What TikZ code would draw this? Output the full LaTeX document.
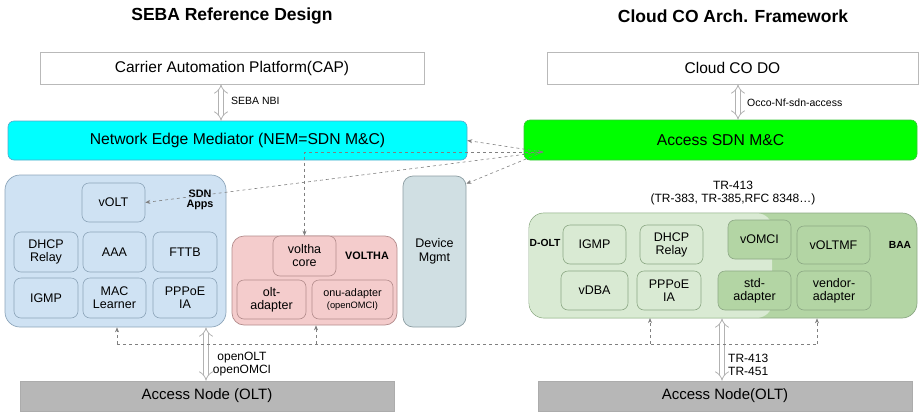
\documentclass[tikz,border=0pt]{standalone}
\usepackage{fontspec}
\setmainfont{Liberation Sans}
\usetikzlibrary{arrows.meta, calc}
\definecolor{sbluefill}{HTML}{CFE2F3}
\definecolor{sblueline}{HTML}{8DA5BA}
\definecolor{vpinkfill}{HTML}{F4CCCC}
\definecolor{vpinkline}{HTML}{B38C8C}
\definecolor{devfill}{HTML}{D0DFE3}
\definecolor{devline}{HTML}{8C9DA2}
\definecolor{doltfill}{HTML}{D9EAD3}
\definecolor{baafill}{HTML}{B3D5A4}
\definecolor{greenline}{HTML}{8CA884}
\definecolor{nodegray}{HTML}{B7B7B7}
\definecolor{dashgray}{HTML}{808080}
\definecolor{nemcyan}{HTML}{00FFFF}
\definecolor{sdngreen}{HTML}{00FF00}
\tikzset{
  title/.style={font=\fontsize{17.5}{20}\selectfont\bfseries},
  topbox/.style={draw=gray!55, fill=white, line width=0.6pt,
                 font=\fontsize{15.5}{18}\selectfont},
  ctlbox/.style={rounded corners=6pt, line width=0.6pt,
                 font=\fontsize{15.7}{18}\selectfont},
  groupbox/.style={rounded corners=15pt, line width=0.7pt},
  appbox/.style={draw=sblueline, fill=sbluefill, rounded corners=7pt,
                 line width=0.6pt, align=center,
                 font=\fontsize{12.5}{14}\selectfont},
  vbox/.style={appbox, draw=vpinkline, fill=vpinkfill},
  gbox/.style={appbox, draw=greenline, fill=doltfill},
  gboxdk/.style={appbox, draw=greenline, fill=baafill},
  grplabel/.style={font=\fontsize{10.8}{12.5}\selectfont\bfseries, align=center},
  accbox/.style={draw=gray!65, fill=nodegray, line width=0.6pt,
                 font=\fontsize{15}{18}\selectfont},
  dblarrow/.style={draw=gray!60, double=white, double distance=4.2pt,
                   line width=0.8pt, {Implies[scale=1.3]}-{Implies[scale=1.3]}},
  dashline/.style={dashgray, dashed, line width=0.6pt,
                   {Stealth[length=5pt, width=4pt]}-{Stealth[length=5pt, width=4pt]}},
  dashto/.style={dashgray, dashed, line width=0.6pt,
                 -{Stealth[length=5pt, width=4pt]}},
  lbl/.style={font=\fontsize{12}{14}\selectfont, anchor=west, inner sep=0,
              align=left},
}

\begin{document}
\begin{tikzpicture}[x=1pt, y=-1pt]
  \useasboundingbox (0,0) rectangle (923,418);

  %% titles
  \node[title] (seba) at (232,16) {SEBA Reference Design};
  \node[title] (cloud) at (733,16) {Cloud CO Arch. Framework};

  %% orchestration layer
  \node[topbox, minimum width=384pt, minimum height=32pt] (cap) at (232,68)
    {Carrier Automation Platform(CAP)};
  \node[topbox, minimum width=371pt, minimum height=32pt] (ccodo) at (732.5,68)
    {Cloud CO DO};

  %% SDN controllers
  \node[ctlbox, draw=cyan!60!gray, fill=nemcyan, minimum width=459pt,
        minimum height=39pt] (nem) at (237.5,140.5)
    {Network Edge Mediator (NEM=SDN M\&C)};
  \node[ctlbox, draw=green!55!gray, fill=sdngreen, minimum width=393pt,
        minimum height=40pt] (asdn) at (720.5,140)
    {Access SDN M\&C};

  \draw[dblarrow] (cap.south -| 221,0) -- (nem.north -| 221,0);
  \node[lbl, font=\fontsize{10.5}{12}\selectfont] (nbi) at (231,101) {SEBA NBI};
  \draw[dblarrow] (ccodo.south -| 738,0) -- (asdn.north -| 738,0);
  \node[lbl, font=\fontsize{10.5}{12}\selectfont] (occo) at (747,103) {Occo-Nf-sdn-access};

  %% SEBA: SDN apps
  \node[groupbox, draw=sblueline, fill=sbluefill, minimum width=221pt,
        minimum height=152pt] (sdnapps) at (115.5,251) {};
  \node[grplabel] (sdnlbl) at (200,200) {SDN\\[-2pt]Apps};
  \node[appbox, minimum width=63pt, minimum height=39pt] (volt) at (113.5,202.5) {vOLT};
  \node[appbox, minimum width=64pt, minimum height=40pt] (dhcp) at (46,252) {DHCP\\[-1pt]Relay};
  \node[appbox, minimum width=63pt, minimum height=40pt] (aaa) at (114.5,252) {AAA};
  \node[appbox, minimum width=64pt, minimum height=40pt] (fttb) at (185,252) {FTTB};
  \node[appbox, minimum width=64pt, minimum height=40pt] (igmp) at (46,298) {IGMP};
  \node[appbox, minimum width=63pt, minimum height=40pt] (macl) at (114.5,298) {MAC\\[-1pt]Learner};
  \node[appbox, minimum width=64pt, minimum height=40pt] (pppoe) at (185,298) {PPPoE\\[-1pt]IA};

  %% SEBA: VOLTHA
  \node[groupbox, rounded corners=12pt, draw=vpinkline, fill=vpinkfill,
        minimum width=165pt, minimum height=89pt] (voltha) at (314.5,280.5) {};
  \node[vbox, minimum width=63pt, minimum height=40pt] (vcore) at (304.5,256) {voltha\\[-1pt]core};
  \node[grplabel] (vlbl) at (367,256) {VOLTHA};
  \node[vbox, minimum width=69pt, minimum height=39pt] (oltad) at (271.5,299.5) {olt-\\[-1pt]adapter};
  \node[vbox, minimum width=81pt, minimum height=39pt] (onuad) at (352.5,299.5)
    {\fontsize{10.8}{13}\selectfont onu-adapter\\[-2pt]\fontsize{9.3}{11}\selectfont(openOMCI)};

  %% SEBA: device management
  \node[groupbox, rounded corners=10pt, draw=devline, fill=devfill, align=center,
        minimum width=63pt, minimum height=151pt,
        font=\fontsize{12.5}{15}\selectfont] (devmgmt) at (434.5,251.5) {Device\\[-1pt]Mgmt};

  %% Cloud CO: D-OLT and BAA
  \node[font=\fontsize{12}{14}\selectfont, align=center] (trtop) at (733,193)
    {TR-413\\[-1pt](TR-383, TR-385,RFC 8348\ldots)};
  \node[groupbox, draw=greenline, fill=baafill, minimum width=388pt,
        minimum height=105pt] (baa) at (723,265.5) {};
  \node[groupbox, fill=doltfill, minimum width=243pt,
        minimum height=104.4pt] (dolt) at (650.7,265.5) {};
  \node[grplabel, font=\fontsize{10.3}{12}\selectfont\bfseries] (doltlbl) at (545,243) {D-OLT};
  \node[grplabel, font=\fontsize{10.3}{12}\selectfont\bfseries] (baalbl) at (900,245) {BAA};
  \node[gbox, minimum width=63pt, minimum height=39pt] (igmp2) at (594.5,244.5) {IGMP};
  \node[gbox, minimum width=63pt, minimum height=39pt] (dhcp2) at (671.5,244.5) {DHCP\\[-1pt]Relay};
  \node[gboxdk, minimum width=63pt, minimum height=39pt] (vomci) at (759.5,239.5) {vOMCI};
  \node[gboxdk, minimum width=73pt, minimum height=38pt] (voltmf) at (833.5,245) {vOLTMF};
  \node[gbox, minimum width=67pt, minimum height=39pt] (vdba) at (594.5,290.5) {vDBA};
  \node[gbox, minimum width=64pt, minimum height=39pt] (pppoe2) at (669,290.5) {PPPoE\\[-1pt]IA};
  \node[gboxdk, minimum width=73pt, minimum height=39pt] (stdad) at (754.5,290.5) {std-\\[-1pt]adapter};
  \node[gboxdk, minimum width=74pt, minimum height=39pt] (vendad) at (834,290.5) {vendor-\\[-1pt]adapter};

  %% access nodes
  \node[accbox, minimum width=374pt, minimum height=30pt] (anleft) at (207,396) {Access Node (OLT)};
  \node[accbox, minimum width=374pt, minimum height=30pt] (anright) at (725,396) {Access Node(OLT)};

  \draw[dblarrow] (sdnapps.south -| 206,0) -- (anleft.north -| 206,0);
  \node[lbl, align=center, anchor=center] (olbl) at (242,364) {openOLT\\[-1pt]openOMCI};
  \draw[dblarrow] (baa.south -| 722,0) -- (anright.north -| 722,0);
  \node[lbl] (trlbl) at (728,365) {TR-413\\[-1pt]TR-451};

  %% management links to Access SDN M&C
  \coordinate (hub) at (543,152);
  \draw[dashto] (hub) -- (nem.east);
  \draw[dashto] (hub) -- (volt.east);
  \draw[dashto] (hub) -- ($(devmgmt.north east)+(0,8)$);
  \draw[dashline] (hub) -| (vcore.north);

  %% bottom bus
  \coordinate (busl) at (117,344);
  \coordinate (busr) at (817,344);
  \draw[dashgray, dashed, line width=0.6pt] (busl) -- (busr);
  \draw[dashto] (busl) -- (busl |- sdnapps.south);
  \draw[dashto] (316,344) -- (voltha.south -| 316,0);
  \draw[dashto] (650,344) -- (dolt.south -| 650,0);
  \draw[dashto] (busr) -- (baa.south -| busr);

\end{tikzpicture}
\end{document}
